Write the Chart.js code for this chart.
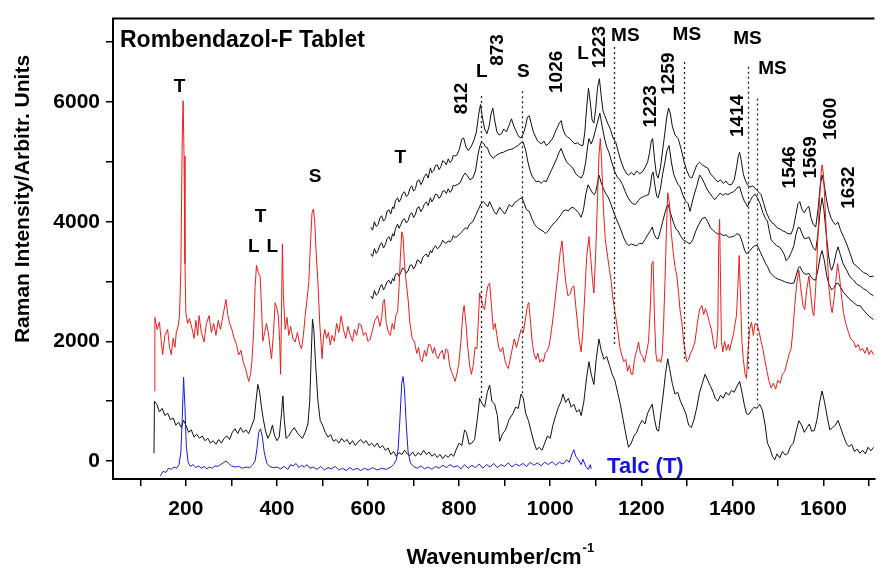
<!DOCTYPE html>
<html>
<head>
<meta charset="utf-8">
<script src="https://cdn.jsdelivr.net/npm/chart.js@4.4.1/dist/chart.umd.min.js"></script>
<style>
  html, body { margin: 0; padding: 0; background: #fff; }
  #box { width: 880px; height: 569px; }
</style>
</head>
<body>
<div id="box"><canvas id="raman" width="880" height="569"></canvas></div>
<script>
// Spectra: [wavenumber cm-1, intensity]
const talc = [[144,-250],[150,-170],[156,-190],[162,-120],[168,-140],[174,-100],[180,-120],[185,-60],[189,150],[192,700],[195,1400],[198,900],[201,250],[205,-20],[210,-90],[216,-60],[222,-110],[228,-80],[234,-120],[240,-90],[246,-130],[252,-100],[258,-120],[264,-80],[270,-90],[276,-60],[282,-30],[288,0],[294,-40],[300,-80],[308,-100],[316,-90],[324,-120],[332,-100],[340,-110],[346,-70],[352,0],[356,200],[360,480],[364,540],[368,400],[372,150],[378,-40],[384,-90],[392,-110],[400,-100],[408,-130],[416,-90],[424,-140],[430,-60],[436,-80],[442,-40],[448,-110],[454,-70],[460,-100],[466,-60],[472,-120],[480,-100],[488,-140],[496,-90],[504,-150],[512,-110],[520,-130],[528,-90],[536,-150],[544,-120],[552,-160],[560,-110],[568,-150],[576,-120],[584,-160],[592,-120],[600,-150],[610,-110],[620,-150],[630,-120],[640,-140],[650,-100],[656,-60],[662,20],[666,200],[670,700],[674,1300],[677,1410],[680,1200],[684,600],[688,150],[693,-30],[700,-90],[708,-120],[716,-80],[724,-130],[732,-100],[740,-140],[748,-90],[756,-120],[764,-70],[772,-110],[780,-60],[788,-100],[796,-80],[804,-130],[812,-60],[820,-120],[828,-70],[836,-110],[844,-50],[852,-120],[860,-60],[868,-100],[876,-40],[884,-110],[892,-60],[900,-90],[908,-30],[916,-100],[924,-50],[932,-80],[940,-40],[948,-90],[956,-20],[964,-70],[972,-30],[980,-80],[988,-20],[996,-60],[1004,-10],[1012,-70],[1020,-20],[1028,-50],[1036,20],[1042,-20],[1048,120],[1052,190],[1056,80],[1062,20],[1068,-60],[1072,30],[1078,-90],[1084,-140],[1088,-60],[1090,-130]];

const tabletRed = [[131,1170],[132,2400],[137,2200],[142,2320],[146,2000],[149,1780],[154,2100],[160,2200],[164,1900],[168,1780],[172,2050],[176,1900],[179,2150],[183,2250],[186,2430],[189,3200],[192,5400],[194,6020],[196,5100],[198,3300],[200,2480],[204,2300],[208,2380],[214,2200],[218,2050],[222,2350],[226,2100],[229,2430],[234,2150],[240,1990],[245,2300],[251,2430],[256,2150],[261,2300],[266,2100],[271,2350],[276,2200],[282,2450],[288,2700],[292,2450],[296,2300],[301,2200],[306,2050],[311,1950],[316,1775],[321,1850],[326,1650],[331,1545],[335,1420],[338,1330],[342,1450],[345,1660],[349,2200],[352,2900],[355,3270],[359,3150],[363,3090],[366,2600],[369,2000],[373,2150],[377,2300],[381,2150],[385,1900],[388,1710],[392,2100],[396,2645],[400,2550],[403,2430],[406,2000],[408,1450],[410,2500],[412,3630],[414,2800],[418,2200],[422,2400],[426,2100],[430,2250],[435,2050],[440,1990],[445,2150],[450,1950],[454,1875],[458,2100],[462,2430],[466,2700],[470,3000],[474,3700],[477,4150],[480,4210],[483,4000],[486,3500],[490,2975],[494,2300],[497,1950],[499,1710],[502,2050],[505,2200],[509,2050],[513,2150],[517,1940],[521,2100],[526,2000],[531,2300],[536,2150],[541,2430],[546,2200],[551,2050],[556,2250],[561,2100],[566,2000],[570,2200],[575,2100],[580,2300],[585,2270],[590,2100],[595,2150],[600,2000],[605,2040],[610,2200],[615,2350],[621,2430],[626,2250],[630,2400],[633,2650],[636,2700],[640,2300],[645,2150],[649,2100],[653,2300],[657,2200],[661,2430],[665,2500],[668,2900],[671,3400],[674,3830],[677,3750],[680,3300],[684,2975],[688,2700],[692,2300],[697,2050],[702,1990],[707,1800],[711,1900],[715,1700],[719,1660],[724,1850],[728,1750],[733,1950],[737,1940],[742,1800],[746,1900],[750,1750],[754,1710],[758,1800],[763,1850],[767,1700],[771,1875],[775,1850],[779,1600],[783,1500],[787,1420],[791,1330],[795,1450],[799,1610],[804,2000],[808,2450],[811,2600],[815,2300],[819,1900],[823,1600],[827,1450],[831,1600],[835,1900],[839,1875],[842,2300],[845,2810],[849,2700],[852,2600],[856,2530],[860,2800],[863,2925],[867,2975],[871,2600],[875,2200],[879,2300],[883,2100],[887,1900],[891,1824],[896,1900],[900,1700],[904,1600],[908,1545],[912,1700],[916,1850],[921,2040],[926,1900],[931,2050],[936,2200],[941,2150],[946,2400],[950,2600],[953,2650],[957,2300],[961,1950],[965,1775],[969,1700],[973,1800],[977,1650],[981,1700],[985,1660],[989,1800],[994,1850],[998,1940],[1003,2200],[1008,2500],[1013,2860],[1018,3200],[1022,3500],[1026,3680],[1030,3300],[1034,3000],[1039,2760],[1044,2800],[1048,2900],[1052,2925],[1056,2600],[1060,2300],[1064,2000],[1068,1824],[1072,2200],[1076,2800],[1080,3400],[1085,3750],[1089,3400],[1093,3000],[1096,2810],[1100,3500],[1104,4400],[1107,5100],[1110,5390],[1113,5000],[1117,4200],[1121,3700],[1126,3420],[1130,3200],[1134,3000],[1137,2760],[1142,2500],[1148,2200],[1153,1900],[1158,1750],[1162,1660],[1166,1700],[1170,1500],[1174,1600],[1178,1450],[1181,1446],[1185,1700],[1190,1850],[1194,1990],[1198,1800],[1203,1750],[1207,1650],[1211,1800],[1216,2000],[1220,2600],[1223,3300],[1226,3335],[1229,2400],[1232,1800],[1235,1660],[1239,1700],[1243,1650],[1246,1775],[1249,2300],[1252,3000],[1255,3800],[1258,4485],[1262,4300],[1266,3800],[1270,3500],[1274,3250],[1278,3100],[1282,2800],[1285,2530],[1289,2320],[1293,2000],[1297,1800],[1300,1660],[1304,1700],[1308,1800],[1313,1875],[1318,2000],[1323,2300],[1328,2530],[1333,2600],[1337,2450],[1341,2550],[1346,2430],[1350,2300],[1354,2200],[1358,2000],[1361,1875],[1365,1900],[1368,2200],[1370,3600],[1372,4040],[1374,3000],[1376,2000],[1379,1824],[1383,2000],[1387,1850],[1391,1950],[1394,1850],[1398,1990],[1402,2100],[1406,2300],[1409,2430],[1412,2900],[1415,3435],[1418,2700],[1421,2000],[1424,1700],[1428,1450],[1431,1380],[1434,1800],[1438,2200],[1442,2320],[1446,2100],[1450,2300],[1455,2270],[1459,2150],[1463,2000],[1467,1875],[1471,1700],[1476,1500],[1480,1350],[1485,1220],[1490,1300],[1495,1200],[1500,1350],[1505,1300],[1510,1450],[1515,1500],[1520,1650],[1525,1800],[1529,1875],[1533,2200],[1537,2600],[1541,2950],[1546,3190],[1550,2900],[1555,2600],[1559,2530],[1563,2850],[1568,3090],[1572,2800],[1576,2500],[1579,2430],[1583,2900],[1587,3600],[1591,4300],[1594,4750],[1597,4950],[1600,4800],[1604,4200],[1608,3500],[1612,2900],[1616,2600],[1619,2480],[1623,2700],[1627,3000],[1631,3300],[1635,3100],[1639,2800],[1644,2480],[1649,2300],[1655,2150],[1660,2040],[1666,2000],[1671,1900],[1676,1950],[1681,1850],[1686,1880],[1691,1800],[1696,1900],[1700,1780],[1705,1850],[1710,1775]];

const tabletBlack = [[130,130],[131,1000],[136,950],[142,820],[148,880],[154,760],[160,800],[166,690],[172,720],[178,600],[184,650],[190,560],[195,680],[200,600],[206,480],[212,520],[218,400],[224,450],[230,380],[236,420],[242,340],[248,380],[254,300],[260,340],[266,280],[272,360],[278,300],[284,380],[290,420],[296,360],[302,480],[308,540],[314,460],[320,560],[326,480],[332,520],[338,460],[344,580],[350,700],[354,1000],[358,1280],[362,1150],[366,900],[370,700],[375,500],[380,380],[385,460],[390,600],[395,420],[400,340],[405,400],[410,800],[413,1090],[416,700],[420,380],[426,420],[432,500],[438,560],[444,480],[450,420],[456,380],[462,480],[468,620],[472,1000],[475,1700],[478,2370],[481,2200],[485,1600],[490,1000],[495,680],[500,600],[506,480],[512,400],[518,440],[524,330],[530,360],[536,300],[542,380],[548,320],[554,360],[560,280],[566,340],[572,260],[578,320],[584,360],[590,300],[596,340],[602,260],[608,300],[614,240],[620,300],[626,220],[632,260],[638,180],[644,220],[650,110],[656,160],[662,80],[668,140],[674,110],[680,180],[686,120],[692,90],[698,150],[704,80],[710,140],[716,100],[722,180],[728,110],[734,150],[740,80],[746,120],[752,60],[758,110],[764,40],[770,100],[776,60],[782,120],[788,80],[794,200],[800,300],[806,260],[812,520],[816,480],[822,280],[828,300],[834,360],[840,700],[845,1050],[850,960],[856,900],[862,1150],[867,1270],[872,1000],[878,950],[884,760],[889,330],[895,450],[902,520],[910,700],[918,790],[924,900],[930,880],[936,1120],[941,1050],[946,800],[952,680],[958,500],[964,320],[970,190],[976,230],[982,180],[988,300],[994,420],[1000,380],[1006,600],[1012,760],[1018,900],[1024,1000],[1028,1120],[1034,980],[1040,1050],[1046,900],[1052,950],[1058,820],[1064,860],[1068,760],[1074,1000],[1080,1400],[1085,1660],[1090,1450],[1096,1280],[1101,1700],[1107,2040],[1112,1850],[1118,1700],[1124,1750],[1130,1600],[1136,1450],[1142,1350],[1148,1150],[1154,950],[1160,700],[1166,450],[1172,230],[1178,300],[1184,420],[1190,480],[1196,600],[1202,680],[1208,620],[1214,800],[1219,880],[1224,950],[1229,700],[1234,520],[1238,500],[1243,800],[1248,1100],[1253,1450],[1258,1710],[1262,1550],[1268,1300],[1274,1120],[1280,1150],[1286,1000],[1292,900],[1298,790],[1304,600],[1310,560],[1316,700],[1322,900],[1328,1150],[1334,1300],[1340,1450],[1346,1350],[1352,1250],[1358,1150],[1362,1050],[1368,1000],[1374,1100],[1380,1050],[1386,1150],[1392,1100],[1398,1180],[1404,1150],[1410,1250],[1416,1330],[1421,1150],[1426,950],[1431,790],[1436,780],[1442,850],[1448,900],[1454,880],[1460,950],[1466,850],[1472,600],[1477,300],[1483,200],[1488,80],[1493,20],[1498,120],[1504,50],[1510,160],[1516,100],[1522,130],[1528,250],[1534,300],[1540,500],[1546,674],[1552,600],[1558,480],[1564,560],[1569,620],[1574,500],[1580,510],[1586,700],[1592,1000],[1597,1170],[1602,1000],[1608,750],[1614,520],[1620,560],[1626,600],[1632,680],[1638,550],[1644,420],[1650,300],[1656,240],[1662,280],[1668,160],[1674,200],[1680,130],[1686,180],[1692,120],[1698,230],[1704,170],[1710,230]];

const upperTop = [[606,3910],[610,3860],[614,4000],[618,3920],[622,3950],[626,4060],[630,4100],[634,4010],[638,4050],[642,4180],[646,4200],[650,4130],[654,4250],[657,4220],[660,4350],[665,4400],[668,4330],[672,4380],[676,4470],[680,4500],[684,4420],[688,4450],[692,4560],[696,4600],[700,4510],[704,4550],[708,4680],[712,4700],[716,4620],[720,4680],[724,4760],[728,4800],[732,4730],[737,4900],[740,4820],[744,4850],[748,4940],[752,4950],[756,4870],[760,4920],[764,5020],[768,5000],[772,4950],[776,5050],[780,4990],[784,5020],[787,5110],[790,5100],[795,5110],[800,5200],[806,5380],[810,5400],[815,5250],[820,5190],[826,5250],[832,5350],[838,5500],[843,5800],[847,5960],[851,5750],[856,5550],[861,5470],[866,5600],[870,5800],[874,5900],[878,5700],[883,5500],[888,5450],[893,5470],[898,5550],[904,5500],[909,5600],[915,5720],[920,5600],[926,5500],[931,5420],[936,5400],[941,5470],[946,5600],[950,5750],[954,5770],[958,5650],[963,5500],[968,5420],[972,5350],[976,5325],[981,5300],[986,5350],[991,5275],[996,5300],[1001,5350],[1006,5400],[1011,5500],[1016,5580],[1020,5650],[1024,5690],[1028,5550],[1033,5450],[1038,5420],[1043,5390],[1048,5350],[1054,5300],[1060,5320],[1066,5280],[1072,5275],[1076,5500],[1080,5900],[1084,6230],[1088,6000],[1092,5700],[1096,5650],[1100,5900],[1104,6250],[1108,6390],[1112,6100],[1116,5850],[1120,5770],[1126,5650],[1132,5550],[1138,5400],[1144,5325],[1150,5150],[1156,5000],[1162,4880],[1168,4800],[1172,4780],[1178,4820],[1184,4780],[1190,4850],[1196,4800],[1202,4830],[1208,4900],[1214,5000],[1218,5150],[1222,5350],[1225,5390],[1229,5050],[1233,4800],[1237,4730],[1242,4900],[1247,5200],[1252,5500],[1256,5750],[1260,5900],[1264,5800],[1268,5600],[1274,5450],[1281,5390],[1288,5200],[1294,5000],[1300,4850],[1306,4750],[1311,4730],[1317,4850],[1322,4950],[1328,4995],[1334,4950],[1340,4920],[1346,4896],[1352,4800],[1358,4750],[1364,4700],[1368,4666],[1374,4700],[1380,4640],[1386,4680],[1392,4620],[1398,4617],[1404,4700],[1409,4900],[1413,5100],[1416,5160],[1420,5000],[1424,4800],[1428,4700],[1433,4617],[1439,4580],[1445,4600],[1451,4550],[1457,4500],[1463,4453],[1469,4300],[1475,4150],[1481,4050],[1487,3980],[1492,3960],[1498,3900],[1504,3880],[1510,3850],[1516,3830],[1522,3800],[1529,3795],[1534,3900],[1539,4100],[1544,4300],[1548,4337],[1553,4200],[1558,4150],[1563,4220],[1568,4255],[1573,4050],[1578,3950],[1583,3910],[1588,4200],[1593,4600],[1597,4780],[1601,4650],[1606,4400],[1611,4200],[1616,4075],[1621,4000],[1626,3950],[1632,3990],[1638,3850],[1644,3750],[1651,3630],[1658,3480],[1666,3300],[1674,3250],[1681,3200],[1688,3150],[1695,3130],[1702,3080],[1710,3090]];

const upperMid = [[606,3467],[610,3420],[614,3550],[618,3470],[622,3520],[626,3610],[630,3650],[634,3560],[638,3620],[642,3720],[646,3750],[650,3680],[654,3800],[657,3760],[660,3880],[665,3960],[668,3890],[672,3950],[676,4030],[680,4050],[684,3980],[688,4020],[692,4120],[696,4150],[700,4070],[704,4120],[708,4230],[712,4250],[716,4170],[720,4220],[724,4300],[728,4330],[732,4270],[737,4400],[740,4330],[744,4380],[748,4460],[752,4450],[756,4390],[760,4430],[764,4510],[768,4520],[772,4470],[776,4550],[780,4490],[784,4530],[787,4610],[790,4600],[795,4617],[802,4650],[808,4750],[813,4814],[818,4770],[824,4700],[830,4730],[836,4850],[841,5100],[845,5250],[849,5330],[854,5307],[858,5250],[862,5240],[866,5150],[870,5100],[875,5060],[880,5100],[886,5130],[891,5150],[897,5160],[902,5180],[908,5200],[914,5210],[919,5225],[924,5250],[930,5280],[936,5320],[941,5325],[946,5200],[951,5000],[956,4850],[961,4750],[966,4700],[969,4666],[975,4680],[980,4640],[986,4690],[991,4666],[996,4750],[1002,4850],[1008,4950],[1014,5050],[1019,5150],[1024,5225],[1030,5100],[1036,5000],[1042,4950],[1050,4896],[1056,4800],[1062,4760],[1068,4730],[1073,4800],[1078,5000],[1082,5250],[1085,5390],[1090,5300],[1095,5400],[1100,5550],[1105,5700],[1109,5815],[1114,5600],[1119,5400],[1124,5250],[1129,5160],[1135,5000],[1141,4850],[1147,4750],[1153,4700],[1159,4617],[1165,4500],[1171,4400],[1177,4330],[1182,4300],[1187,4288],[1193,4350],[1199,4400],[1205,4420],[1211,4440],[1216,4453],[1220,4600],[1223,4780],[1226,4830],[1230,4600],[1234,4420],[1237,4400],[1242,4550],[1247,4800],[1252,5000],[1256,5180],[1261,5275],[1266,5000],[1271,4800],[1276,4700],[1281,4620],[1285,4584],[1291,4450],[1297,4350],[1303,4300],[1307,4173],[1311,4300],[1316,4450],[1322,4600],[1328,4780],[1333,4730],[1338,4650],[1344,4550],[1350,4480],[1356,4420],[1361,4370],[1367,4420],[1373,4480],[1379,4440],[1385,4470],[1390,4453],[1396,4480],[1402,4500],[1408,4540],[1412,4580],[1416,4584],[1421,4450],[1426,4350],[1430,4300],[1433,4250],[1439,4350],[1444,4420],[1450,4460],[1455,4400],[1461,4300],[1467,4150],[1473,4050],[1477,4010],[1481,3850],[1485,3700],[1491,3650],[1497,3600],[1503,3580],[1509,3520],[1514,3450],[1518,3350],[1524,3400],[1530,3500],[1535,3600],[1540,3800],[1544,3900],[1548,3900],[1553,3800],[1558,3720],[1563,3720],[1568,3746],[1573,3650],[1578,3560],[1583,3520],[1588,3800],[1593,4200],[1597,4400],[1601,4200],[1606,3800],[1611,3450],[1615,3250],[1618,3190],[1623,3300],[1628,3480],[1632,3580],[1637,3450],[1643,3300],[1651,3190],[1658,3080],[1666,3024],[1674,2950],[1681,2925],[1688,2880],[1695,2850],[1702,2800],[1710,2760]];

const upperLow = [[606,2760],[610,2710],[614,2850],[618,2770],[622,2800],[626,2900],[630,2950],[634,2860],[638,2920],[642,3000],[646,3020],[650,2960],[654,3050],[657,3010],[660,3120],[665,3138],[668,3090],[672,3150],[676,3230],[680,3200],[684,3140],[688,3180],[692,3270],[696,3280],[700,3210],[704,3260],[708,3360],[712,3350],[716,3300],[720,3400],[724,3440],[728,3460],[732,3410],[737,3516],[740,3480],[744,3560],[748,3600],[752,3550],[756,3570],[760,3620],[764,3690],[768,3650],[772,3640],[776,3680],[780,3660],[784,3700],[787,3770],[790,3740],[795,3746],[802,3800],[808,3850],[814,3900],[818,3880],[823,3960],[830,4000],[836,4100],[842,4200],[848,4300],[853,4337],[858,4300],[863,4250],[867,4337],[872,4250],[877,4170],[882,4124],[889,4240],[895,4180],[900,4130],[905,4200],[910,4288],[916,4250],[922,4320],[928,4350],[933,4380],[938,4400],[943,4300],[948,4200],[954,4173],[960,4050],[966,3950],[972,3900],[978,3870],[984,3845],[990,3800],[996,3850],[1002,3920],[1006,3960],[1012,4000],[1018,4060],[1024,4120],[1028,4173],[1034,4200],[1040,4180],[1045,4230],[1050,4240],[1056,4200],[1062,4150],[1068,4075],[1073,4200],[1078,4450],[1083,4617],[1088,4550],[1093,4480],[1097,4453],[1100,4500],[1104,4650],[1107,4780],[1112,4650],[1117,4550],[1122,4470],[1128,4400],[1134,4280],[1140,4150],[1145,4050],[1150,3960],[1156,3850],[1162,3720],[1167,3650],[1172,3600],[1178,3630],[1184,3610],[1190,3600],[1196,3640],[1202,3630],[1208,3700],[1214,3780],[1220,3850],[1224,3910],[1228,3800],[1232,3730],[1237,3713],[1242,3850],[1247,4000],[1252,4150],[1256,4250],[1259,4288],[1264,4150],[1270,4000],[1276,3880],[1281,3845],[1287,3750],[1292,3700],[1296,3680],[1302,3650],[1307,3630],[1313,3700],[1320,3850],[1326,3950],[1333,4050],[1340,4075],[1346,4000],[1352,3900],[1358,3850],[1363,3820],[1368,3795],[1374,3800],[1380,3770],[1386,3780],[1392,3740],[1398,3746],[1404,3760],[1410,3800],[1416,3780],[1422,3650],[1427,3520],[1431,3467],[1437,3500],[1443,3560],[1449,3600],[1455,3600],[1461,3500],[1467,3400],[1473,3300],[1477,3253],[1483,3150],[1489,3100],[1495,3060],[1501,3040],[1507,3024],[1514,3000],[1521,2980],[1528,2970],[1535,2974],[1540,3100],[1545,3230],[1548,3253],[1553,3180],[1558,3130],[1563,3120],[1568,3138],[1574,3060],[1579,3030],[1583,3024],[1588,3200],[1593,3420],[1597,3516],[1602,3350],[1607,3100],[1612,2950],[1618,2860],[1623,2900],[1628,2960],[1632,2974],[1638,2900],[1644,2820],[1651,2760],[1658,2700],[1666,2650],[1674,2600],[1681,2595],[1688,2520],[1695,2460],[1702,2410],[1710,2366]];

// dotted marker lines: [wavenumber, top, bottom]
const markerLines = [[848,6100,1050],[938,6180,1100],[1139,6920,1940],[1293,6670,1710],[1435,6590,1495],[1455,6060,950]];

// peak labels: [text, wavenumber, intensity, rotated]
const peakLabels = [
  ['T',186,6260,0],['T',364,4090,0],['L',349,3580,0],['L',390,3580,0],
  ['S',484,4750,0],['T',671,5075,0],
  ['812',806,6060,1],['L',850,6505,0],['873',885,6870,1],['S',941,6505,0],
  ['1026',1015,6505,1],['L',1072,6800,0],['1223',1109,6920,1],
  ['MS',1165,7115,0],['MS',1300,7130,0],['MS',1433,7050,0],['MS',1488,6555,0],
  ['1223',1220,5930,1],['1259',1261,6475,1],['1414',1411,5770,1],
  ['1546',1525,4910,1],['1569',1572,5075,1],['1600',1616,5720,1],['1632',1655,4570,1]
];
const talcLabel = ['Talc (T)', 1209, -100];

// axis ticks (every tick mark, labelled ones)
const xTickMarks = [100, 200, 300, 400, 500, 600, 700, 800, 900, 1000, 1100, 1200, 1300, 1400, 1500, 1600, 1700];
const xTicks = [200, 400, 600, 800, 1000, 1200, 1400, 1600];
const yTickMarks = [0, 1000, 2000, 3000, 4000, 5000, 6000, 7000];
const yTicks = [0, 2000, 4000, 6000];

const FONT = '"Liberation Sans", Arial, sans-serif';

function toPoints(arr) {
  return arr.map(p => ({ x: p[0], y: p[1] }));
}

function line(data, color) {
  return { data: toPoints(data), borderColor: color, borderWidth: 1, pointRadius: 0, showLine: true, tension: 0 };
}

// Texts, dotted lines and frame drawn on top of the spectra
const decorations = {
  id: 'decorations',
  afterDatasetsDraw(chart) {
    const ctx = chart.ctx;
    const xs = chart.scales.x, ys = chart.scales.y;
    const area = chart.chartArea;
    ctx.save();

    ctx.strokeStyle = '#222';
    ctx.lineWidth = 1.3;
    ctx.setLineDash([2, 3]);
    markerLines.forEach(m => {
      const px = Math.round(xs.getPixelForValue(m[0])) + 0.5;
      ctx.beginPath();
      ctx.moveTo(px, ys.getPixelForValue(m[1]));
      ctx.lineTo(px, ys.getPixelForValue(m[2]));
      ctx.stroke();
    });
    ctx.setLineDash([]);

    ctx.fillStyle = '#000';
    ctx.textAlign = 'center';
    ctx.textBaseline = 'middle';
    ctx.font = 'bold 19px ' + FONT;
    peakLabels.forEach(l => {
      const px = xs.getPixelForValue(l[1]), py = ys.getPixelForValue(l[2]);
      if (l[3]) {
        ctx.save();
        ctx.translate(px, py);
        ctx.rotate(-Math.PI / 2);
        ctx.fillText(l[0], 0, 0);
        ctx.restore();
      } else {
        ctx.fillText(l[0], px, py);
      }
    });

    ctx.fillStyle = '#1515d8';
    ctx.font = 'bold 22px ' + FONT;
    ctx.fillText(talcLabel[0], xs.getPixelForValue(talcLabel[1]), ys.getPixelForValue(talcLabel[2]));

    ctx.fillStyle = '#000';
    ctx.textAlign = 'left';
    ctx.font = 'bold 23px ' + FONT;
    ctx.fillText('Rombendazol-F Tablet', area.left + 7, area.top + 22);

    // top frame line
    ctx.strokeStyle = '#000';
    ctx.lineWidth = 2;
    ctx.beginPath();
    ctx.moveTo(area.left - 1, area.top);
    ctx.lineTo(area.right, area.top);
    ctx.stroke();
    ctx.restore();
  },
  afterDraw(chart) {
    const ctx = chart.ctx;
    ctx.save();
    ctx.fillStyle = '#000';
    ctx.textBaseline = 'alphabetic';

    // y title
    ctx.font = 'bold 21px ' + FONT;
    ctx.textAlign = 'center';
    ctx.translate(29, 199);
    ctx.rotate(-Math.PI / 2);
    ctx.fillText('Raman Intensity/Arbitr. Units', 0, 0);
    ctx.setTransform(1, 0, 0, 1, 0, 0);

    // x title with superscript
    ctx.textAlign = 'left';
    ctx.font = 'bold 22px ' + FONT;
    const main = 'Wavenumber/cm';
    const w = ctx.measureText(main).width;
    const x0 = 494 - w / 2;
    ctx.fillText(main, x0, 564);
    ctx.font = 'bold 13px ' + FONT;
    ctx.fillText('-1', x0 + w + 1, 552);
    ctx.restore();
  }
};

function initializeChart() {
  const ctx = document.getElementById('raman').getContext('2d');
  new Chart(ctx, {
    type: 'scatter',
    data: {
      datasets: [
        line(talc, '#1a1ae0'),
        line(tabletRed, '#ee1c1c'),
        line(tabletBlack, '#111'),
        line(upperTop, '#111'),
        line(upperMid, '#111'),
        line(upperLow, '#111')
      ]
    },
    options: {
      responsive: false,
      animation: false,
      devicePixelRatio: 1,
      layout: { padding: { top: 11, right: 0, left: 0, bottom: 0 } },
      plugins: { legend: { display: false }, tooltip: { enabled: false } },
      scales: {
        x: {
          type: 'linear',
          min: 40,
          max: 1712,
          afterFit: s => { s.height = 90; },
          afterBuildTicks: s => { s.ticks = xTickMarks.map(v => ({ value: v })); },
          border: { color: '#000', width: 2 },
          grid: { drawOnChartArea: false, tickLength: 7, color: '#000', lineWidth: 1.5 },
          ticks: {
            autoSkip: false,
            maxRotation: 0,
            padding: 11,
            color: '#000',
            font: { family: FONT, size: 21, weight: 'bold' },
            callback: v => xTicks.includes(v) ? String(v) : ''
          }
        },
        y: {
          min: -300,
          max: 7395,
          afterFit: s => { s.width = 113; },
          afterBuildTicks: s => { s.ticks = yTickMarks.map(v => ({ value: v })); },
          border: { color: '#000', width: 2 },
          grid: { drawOnChartArea: false, tickLength: 7, color: '#000', lineWidth: 1.5 },
          ticks: {
            autoSkip: false,
            padding: 6,
            color: '#000',
            font: { family: FONT, size: 21, weight: 'bold' },
            callback: v => yTicks.includes(v) ? String(v) : ''
          }
        }
      }
    },
    plugins: [decorations]
  });
}

document.addEventListener('DOMContentLoaded', initializeChart);
</script>
</body>
</html>
